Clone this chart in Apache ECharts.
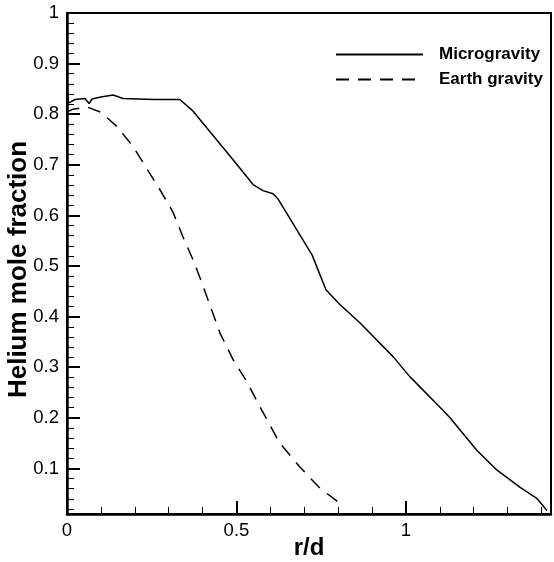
<!DOCTYPE html>
<html>
<head>
<meta charset="utf-8">
<script src="https://cdn.jsdelivr.net/npm/echarts@6/dist/echarts.min.js"></script>
<style>
  html, body { margin: 0; padding: 0; background: #fff; }
  #chart { width: 554px; height: 562px; }
</style>
</head>
<body>
<div id="chart"></div>
<script>
// 微重力 / 地面重力 下的氦摩尔分数分布
var microR = [0, 0.004, 0.024, 0.053, 0.065, 0.074, 0.1, 0.136, 0.165, 0.209, 0.26, 0.333,
  0.372, 0.431, 0.49, 0.549, 0.578, 0.608, 0.622, 0.723, 0.764, 0.805, 0.864, 0.962,
  1.012, 1.021, 1.109, 1.13, 1.209, 1.268, 1.336, 1.386, 1.416];
var microFrac = [0.865, 0.822, 0.829, 0.831, 0.821, 0.83, 0.834, 0.838, 0.831, 0.83, 0.829, 0.829,
  0.806, 0.758, 0.71, 0.661, 0.649, 0.643, 0.633, 0.522, 0.453, 0.424, 0.388, 0.321,
  0.281, 0.275, 0.215, 0.2, 0.136, 0.097, 0.063, 0.041, 0.017];

var earthR = [0, 0.018, 0.06, 0.1, 0.147, 0.195, 0.224, 0.274, 0.313, 0.342, 0.372, 0.398,
  0.451, 0.49, 0.531, 0.569, 0.628, 0.687, 0.746, 0.814];
var earthFrac = [0.804, 0.81, 0.814, 0.804, 0.776, 0.736, 0.705, 0.651, 0.606, 0.558, 0.512, 0.467,
  0.368, 0.315, 0.271, 0.222, 0.15, 0.103, 0.061, 0.027];

var xMajor = [0, 0.5, 1];
var yMajor = [0.1, 0.2, 0.3, 0.4, 0.5, 0.6, 0.7, 0.8, 0.9, 1];

// 次刻度位置
var xMinor = [];
for (var i = 1; i <= 14; i++) { if (i % 5 != 0) xMinor.push(i / 10); }
var yMinor = [];
for (var j = 1; j < 50; j++) { if (j % 5 != 0) yMinor.push(j / 50); }

function zip(a, b) {
  var out = [];
  for (var k = 0; k < a.length; k++) out.push([a[k], b[k]]);
  return out;
}

var chart = echarts.init(document.getElementById('chart'));

var font = 'Liberation Sans, Arial, sans-serif';
var xMin = 0, xMax = 1.428, yMin = 0.01, yMax = 1;

var option = {
  backgroundColor: '#fff',
  animation: false,
  grid: {
    left: 67, right: 3, top: 13, bottom: 48,
    outerBoundsMode: 'none', containLabel: false,
    show: true, borderColor: '#000', borderWidth: 2
  },
  legend: {
    orient: 'vertical',
    left: 335, top: 46,
    padding: 0,
    itemWidth: 87, itemHeight: 14, itemGap: 8,
    itemStyle: { opacity: 0 },
    textStyle: { fontFamily: font, fontSize: 17, fontWeight: 'bold', color: '#000',
      lineHeight: 17, padding: [0, 0, 0, 11] },
    data: ['Microgravity', 'Earth gravity']
  },
  xAxis: [
    {
      type: 'value', min: xMin, max: xMax,
      name: 'r/d', nameLocation: 'middle', nameGap: 22, nameMoveOverlap: false,
      nameTextStyle: { fontFamily: font, fontSize: 24, fontWeight: 'bold', color: '#000' },
      axisLine: { show: true, lineStyle: { color: '#000', width: 2.5 } },
      axisTick: { show: true, inside: true, length: 13, lineStyle: { color: '#000', width: 2 },
        customValues: xMajor },
      axisLabel: { fontFamily: font, fontSize: 18.5, color: '#000', margin: 7,
        customValues: xMajor },
      splitLine: { show: false }
    },
    {
      type: 'value', min: xMin, max: xMax, position: 'bottom',
      axisLine: { show: false },
      axisTick: { show: true, inside: true, length: 7, lineStyle: { color: '#000', width: 1 },
        customValues: xMinor },
      axisLabel: { show: false },
      splitLine: { show: false }
    }
  ],
  yAxis: [
    {
      type: 'value', min: yMin, max: yMax,
      name: 'Helium mole fraction', nameLocation: 'middle', nameGap: 35, nameMoveOverlap: false,
      nameTextStyle: { fontFamily: font, fontSize: 26, fontWeight: 'bold', color: '#000',
        padding: [0, 12, 0, 0] },
      axisLine: { show: true, lineStyle: { color: '#000', width: 2.5 } },
      axisTick: { show: true, inside: true, length: 13, lineStyle: { color: '#000', width: 2 },
        customValues: yMajor },
      axisLabel: { fontFamily: font, fontSize: 18.5, color: '#000', margin: 8,
        customValues: yMajor },
      splitLine: { show: false }
    },
    {
      type: 'value', min: yMin, max: yMax, position: 'left',
      axisLine: { show: false },
      axisTick: { show: true, inside: true, length: 7, lineStyle: { color: '#000', width: 1 },
        customValues: yMinor },
      axisLabel: { show: false },
      splitLine: { show: false }
    }
  ],
  series: [
    {
      name: 'Microgravity', type: 'line', xAxisIndex: 0, yAxisIndex: 0,
      symbol: 'none', color: '#000',
      lineStyle: { color: '#000', width: 1.5, type: 'solid' },
      data: zip(microR, microFrac)
    },
    {
      name: 'Earth gravity', type: 'line', xAxisIndex: 0, yAxisIndex: 0,
      symbol: 'none', color: '#000',
      lineStyle: { color: '#000', width: 1.5, type: [13, 9] },
      data: zip(earthR, earthFrac)
    }
  ]
};

chart.setOption(option);
</script>
</body>
</html>
